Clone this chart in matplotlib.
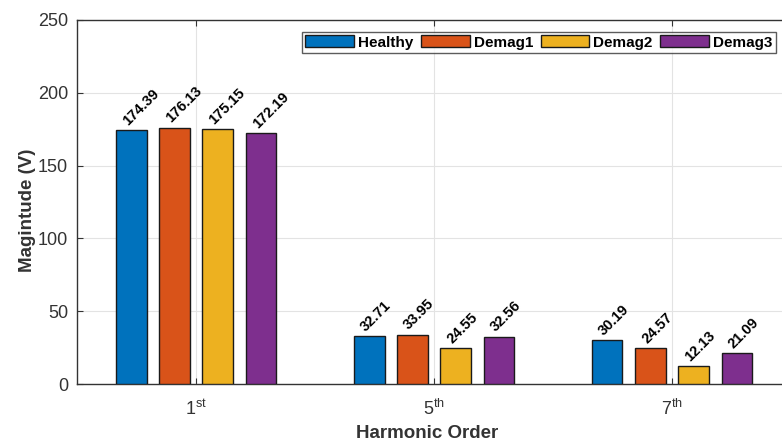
import numpy as np
import matplotlib.pyplot as plt

plt.rcParams['font.family'] = ['Liberation Sans', 'DejaVu Sans']

harmonics = ['1$^{\\mathregular{st}}$', '5$^{\\mathregular{th}}$', '7$^{\\mathregular{th}}$']
series = ['Healthy', 'Demag1', 'Demag2', 'Demag3']
healthy = [174.39, 32.71, 30.19]
demag1 = [176.13, 33.95, 24.57]
demag2 = [175.15, 24.55, 12.13]
demag3 = [172.19, 32.56, 21.09]
colors = ['#0072BD', '#D95319', '#EDB120', '#7E2F8E']

values = [healthy, demag1, demag2, demag3]
x = np.arange(1, len(harmonics) + 1)
step = 0.182
width = 0.13

fig = plt.figure(figsize=(7.82, 4.43), dpi=100)
ax = fig.add_axes([0.0985, 0.133, 0.913, 0.822])

for i, (name, vals, c) in enumerate(zip(series, values, colors)):
    pos = x + (i - 1.5) * step
    ax.bar(pos, vals, width, color=c, edgecolor='#1a1a1a', linewidth=1.0,
           label=name, zorder=3)
    for px, v in zip(pos, vals):
        ax.text(px - 0.005, v + 1.5, f'{v:.2f}', rotation=45, ha='left',
                va='bottom', fontsize=10.5, fontweight='bold', rotation_mode='anchor')

ax.set_xlim(0.5, 3.5)
ax.set_ylim(0, 250)
ax.set_yticks(np.arange(0, 251, 50))
ax.set_xticks(x)
ax.set_xticklabels(harmonics)
ax.tick_params(direction='in', labelsize=13, colors='#333333', top=True, right=True,
               length=4)
ax.tick_params(axis='x', pad=11)
ax.tick_params(axis='y', pad=6.5)
ax.grid(True, color='#e3e3e3', linewidth=0.8, zorder=0)
for s in ax.spines.values():
    s.set_color('#333333')
    s.set_linewidth(1.0)

ax.set_xlabel('Harmonic Order', fontsize=13.5, fontweight='bold', color='#333333')
ax.set_ylabel('Magintude (V)', fontsize=13.5, fontweight='bold', color='#333333')
ax.xaxis.set_label_coords(0.49, -0.113)
ax.yaxis.set_label_coords(-0.057, 0.478)

leg = ax.legend(loc='upper right', bbox_to_anchor=(0.985, 0.98), ncol=4,
                prop={'weight': 'bold', 'size': 11}, frameon=True, fancybox=False,
                edgecolor='#333333', handlelength=3.2, handleheight=0.85,
                columnspacing=0.5, handletextpad=0.25, borderpad=0.22,
                borderaxespad=0.3)
leg.get_frame().set_linewidth(1.0)

fig.savefig('out.png', dpi=100)
